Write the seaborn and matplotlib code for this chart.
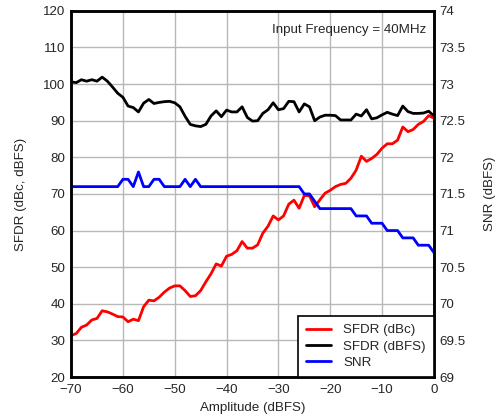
import numpy as np
import pandas as pd
import matplotlib
matplotlib.use('Agg')
import matplotlib.pyplot as plt
import seaborn as sns

#--------------------------------------------------------
amp=list(range(-70, 1))

sfdr_dbc=[31.3, 31.9, 33.6, 34.2, 35.6, 36.0, 38.1, 37.8, 37.2, 36.5,
	36.4, 35.1, 35.8, 35.4, 39.2, 41.0, 40.8, 41.8, 43.2, 44.3,
	44.9, 44.9, 43.6, 42.0, 42.2, 43.6, 46.0, 48.2, 50.9, 50.3,
	53.0, 53.5, 54.5, 57.0, 55.2, 55.2, 56.1, 59.3, 61.2, 64.0,
	62.9, 64.0, 67.2, 68.3, 66.1, 69.6, 69.5, 66.5, 68.4, 70.2,
	71.0, 72.0, 72.6, 72.9, 74.3, 76.5, 80.3, 78.9, 79.7, 80.8,
	82.5, 83.7, 83.7, 84.7, 88.3, 87.0, 87.6, 89.0, 89.8, 91.4,
	90.7]

sfdr_dbfs=[100.6, 100.4, 101.2, 100.8, 101.2, 100.8, 101.9, 100.8, 99.2, 97.5,
	96.4, 94.0, 93.6, 92.4, 94.8, 95.8, 94.7, 95.0, 95.2, 95.3,
	94.9, 93.8, 91.2, 89.0, 88.6, 88.4, 89.0, 91.3, 92.7, 91.1,
	92.9, 92.4, 92.4, 93.8, 90.9, 89.9, 90.0, 92.0, 93.0, 94.9,
	93.0, 93.3, 95.3, 95.2, 92.4, 94.6, 93.8, 90.0, 91.0, 91.5,
	91.5, 91.4, 90.2, 90.2, 90.2, 91.8, 91.3, 93.0, 90.5, 90.8,
	91.6, 92.3, 91.8, 91.4, 94.0, 92.5, 92.0, 92.0, 92.1, 92.6,
	91.3]

snr=[71.6, 71.6, 71.6, 71.6, 71.6, 71.6, 71.6, 71.6, 71.6, 71.6,
	71.7, 71.7, 71.6, 71.8, 71.6, 71.6, 71.7, 71.7, 71.6, 71.6,
	71.6, 71.6, 71.7, 71.6, 71.7, 71.6, 71.6, 71.6, 71.6, 71.6,
	71.6, 71.6, 71.6, 71.6, 71.6, 71.6, 71.6, 71.6, 71.6, 71.6,
	71.6, 71.6, 71.6, 71.6, 71.6, 71.5, 71.5, 71.4, 71.3, 71.3,
	71.3, 71.3, 71.3, 71.3, 71.3, 71.2, 71.2, 71.2, 71.1, 71.1,
	71.1, 71.0, 71.0, 71.0, 70.9, 70.9, 70.9, 70.8, 70.8, 70.8,
	70.7]

#--------------------------------------------------------
sns.set_style('white')
plt.rcParams['font.family']=['Liberation Sans', 'DejaVu Sans']

df=pd.DataFrame({'amp': amp, 'dbc': sfdr_dbc, 'dbfs': sfdr_dbfs, 'snr': snr})

fig=plt.figure(figsize=(4.97, 4.18), dpi=100)
ax=fig.add_axes([0.143, 0.098, 0.730, 0.876])
ax2=ax.twinx()

lw=2.0
sns.lineplot(x='amp', y='dbfs', data=df, ax=ax, color='black', lw=lw, label='SFDR (dBFS)', legend=False)
sns.lineplot(x='amp', y='dbc', data=df, ax=ax, color='#ff0000', lw=lw, label='SFDR (dBc)', legend=False)
sns.lineplot(x='amp', y='snr', data=df, ax=ax2, color='#0000ff', lw=lw, label='SNR', legend=False)

#axes
ax.set_xlim(-70, 0)
ax.set_ylim(20, 120)
ax2.set_ylim(69, 74)
ax.set_xticks(np.arange(-70, 1, 10))
ax.set_yticks(np.arange(20, 121, 10))
ax2.set_yticks(np.arange(69, 74.01, 0.5))
ax2.set_yticklabels([f'{v:g}' for v in np.arange(69, 74.01, 0.5)])
ax.grid(True, color='#b8b8b8', lw=1.0)
ax2.grid(False)
fs=9.6
ax.tick_params(axis='x', length=0, labelsize=fs, pad=5)
ax.tick_params(axis='y', length=0, labelsize=fs, pad=4)
ax2.tick_params(axis='y', length=0, labelsize=fs, pad=4)
ax.set_xlabel('Amplitude (dBFS)', fontsize=fs, labelpad=4)
ax.set_ylabel('SFDR (dBc, dBFS)', fontsize=fs, labelpad=12)
ax2.set_ylabel('SNR (dBFS)', fontsize=fs, labelpad=13)
for a in (ax, ax2):
	for s in a.spines.values():
		s.set_color('black')
		s.set_linewidth(1.8)

ax.text(0.98, 0.965, 'Input Frequency = 40MHz', transform=ax.transAxes,
	ha='right', va='top', fontsize=fs)

#legend
h1, l1=ax.get_legend_handles_labels()
h2, l2=ax2.get_legend_handles_labels()
hd=dict(zip(l1+l2, h1+h2))
order=['SFDR (dBc)', 'SFDR (dBFS)', 'SNR']
leg=ax2.legend([hd[k] for k in order], order, loc='lower right', fontsize=fs,
	frameon=True, fancybox=False, borderaxespad=0, handlelength=1.9,
	borderpad=0.6, labelspacing=0.3, handletextpad=0.9)
leg.get_frame().set_edgecolor('black')
leg.get_frame().set_linewidth(1.2)
leg.get_frame().set_alpha(1)

fig.savefig('out.png', dpi=100)
plt.close()
